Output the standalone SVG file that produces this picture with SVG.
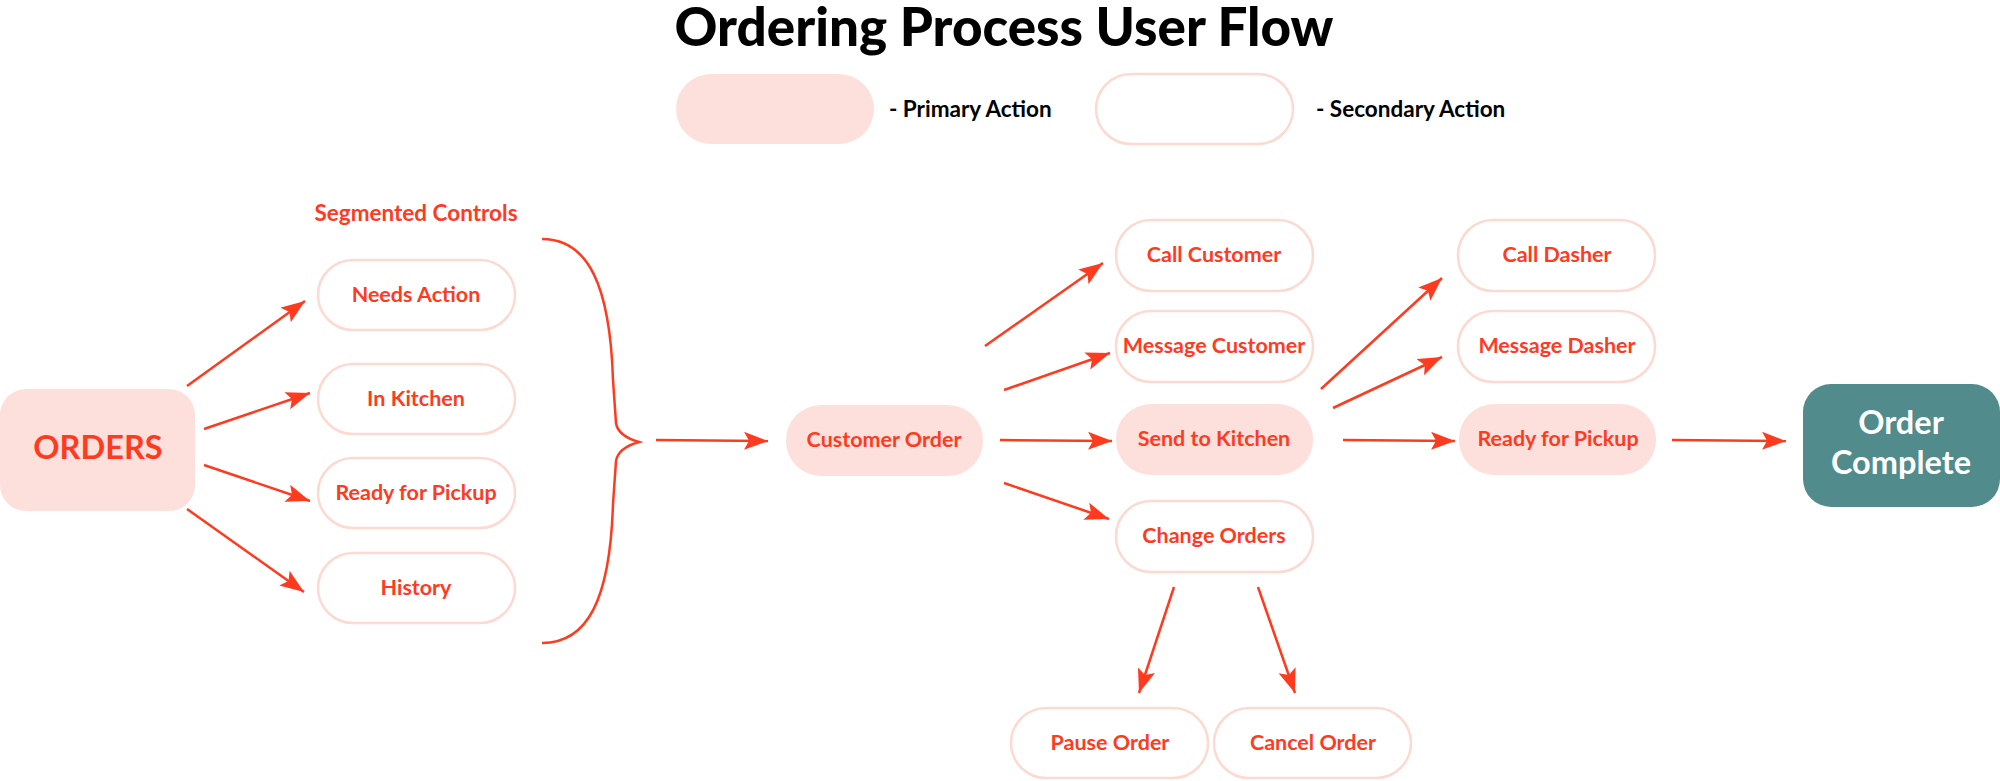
<svg xmlns="http://www.w3.org/2000/svg" width="2000" height="781" viewBox="0 0 2000 781">
<defs>
<marker id="ah" markerUnits="userSpaceOnUse" markerWidth="26" markerHeight="20" refX="24" refY="9" orient="auto">
<path d="M0,0 L24,9 L0,18 L5,9 Z" fill="#FF3B1F"/>
</marker>
<style>
.lbl{font-family:Lato,"Open Sans","Liberation Sans",sans-serif;font-weight:700;font-size:21.5px;fill:#FF3B1F;text-anchor:middle}
.big{font-size:32.5px}
.prim{fill:#FDE0DB}
.sec{fill:#FFFFFF;stroke:#FCDAD2;stroke-width:2.5}
.leg{font-family:Lato,"Open Sans","Liberation Sans",sans-serif;font-weight:700;font-size:22.5px;fill:#000}
.conn line,.conn path{stroke:#FF3B1F;stroke-width:2.5;fill:none}
.conn line{marker-end:url(#ah)}
</style>
</defs>
<rect width="2000" height="781" fill="#FFFFFF"/>
<text x="1004" y="46" font-family="Lato,'Open Sans','Liberation Sans',sans-serif" font-weight="900" font-size="53" text-anchor="middle" fill="#000">Ordering Process User Flow</text>
<g id="legend">
<rect class="prim" x="676" y="74" width="198" height="70" rx="35"/>
<text class="leg" x="889" y="117">- Primary Action</text>
<rect class="sec" x="1096" y="74" width="197" height="70" rx="35"/>
<text class="leg" x="1316" y="117">- Secondary Action</text>
</g>
<text class="lbl" x="416" y="221" style="font-size:22.5px">Segmented Controls</text>
<g id="orders"><rect class="prim" x="0" y="389" width="195" height="122" rx="26"/><text class="lbl big" x="98" y="459">ORDERS</text></g>
<g id="needs-action"><rect class="sec" x="318" y="260" width="197" height="70" rx="35"/><text class="lbl" x="416" y="302">Needs Action</text></g>
<g id="in-kitchen"><rect class="sec" x="318" y="364" width="197" height="70" rx="35"/><text class="lbl" x="416" y="406">In Kitchen</text></g>
<g id="ready-tab"><rect class="sec" x="318" y="458" width="197" height="70" rx="35"/><text class="lbl" x="416" y="500">Ready for Pickup</text></g>
<g id="history"><rect class="sec" x="318" y="553" width="197" height="70" rx="35"/><text class="lbl" x="416" y="595">History</text></g>
<g id="customer-order"><rect class="prim" x="786" y="405" width="197" height="71" rx="35"/><text class="lbl" x="884" y="447">Customer Order</text></g>
<g id="call-customer"><rect class="sec" x="1116" y="220" width="197" height="71" rx="35"/><text class="lbl" x="1214" y="262">Call Customer</text></g>
<g id="message-customer"><rect class="sec" x="1116" y="311" width="197" height="71" rx="35"/><text class="lbl" x="1214" y="353">Message Customer</text></g>
<g id="send-kitchen"><rect class="prim" x="1116" y="404" width="197" height="71" rx="35"/><text class="lbl" x="1214" y="446">Send to Kitchen</text></g>
<g id="change-orders"><rect class="sec" x="1116" y="501" width="197" height="71" rx="35"/><text class="lbl" x="1214" y="543">Change Orders</text></g>
<g id="pause-order"><rect class="sec" x="1011" y="708" width="197" height="70" rx="35"/><text class="lbl" x="1110" y="750">Pause Order</text></g>
<g id="cancel-order"><rect class="sec" x="1214" y="708" width="197" height="70" rx="35"/><text class="lbl" x="1313" y="750">Cancel Order</text></g>
<g id="call-dasher"><rect class="sec" x="1458" y="220" width="197" height="71" rx="35"/><text class="lbl" x="1557" y="262">Call Dasher</text></g>
<g id="message-dasher"><rect class="sec" x="1458" y="311" width="197" height="71" rx="35"/><text class="lbl" x="1557" y="353">Message Dasher</text></g>
<g id="ready-pickup"><rect class="prim" x="1459" y="404" width="197" height="71" rx="35"/><text class="lbl" x="1558" y="446">Ready for Pickup</text></g>
<g id="order-complete"><rect x="1803" y="384" width="197" height="123" rx="28" fill="#528B8B"/>
<text class="lbl big" x="1901" y="434" style="fill:#FFFFFF">Order</text>
<text class="lbl big" x="1901" y="474" style="fill:#FFFFFF">Complete</text></g>
<g class="conn" id="connectors">
<line x1="187" y1="386" x2="305" y2="301"/>
<line x1="204" y1="429" x2="310" y2="393"/>
<line x1="204" y1="465" x2="310" y2="501"/>
<line x1="187" y1="509" x2="304" y2="592"/>
<path d="M542,239 C588,239 610,285 613,380 L616,423 Q618,436 639,442 Q618,448 616,461 L613,504 C610,599 588,643 542,643"/>
<line x1="656" y1="440" x2="768" y2="441"/>
<line x1="985" y1="346" x2="1103" y2="263"/>
<line x1="1004" y1="390" x2="1110" y2="353"/>
<line x1="1000" y1="440" x2="1112" y2="441"/>
<line x1="1004" y1="483" x2="1109" y2="519"/>
<line x1="1174" y1="587" x2="1139" y2="693"/>
<line x1="1258" y1="587" x2="1295" y2="693"/>
<line x1="1321" y1="389" x2="1442" y2="278"/>
<line x1="1333" y1="408" x2="1442" y2="357"/>
<line x1="1343" y1="440" x2="1455" y2="441"/>
<line x1="1672" y1="440" x2="1786" y2="441"/>
</g>
</svg>
